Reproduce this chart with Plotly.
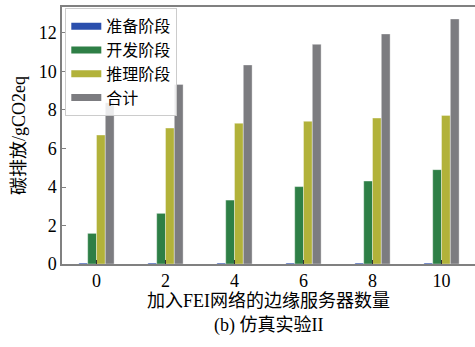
import plotly.graph_objects as go

servers = [0, 2, 4, 6, 8, 10]
prep = [0.05, 0.05, 0.05, 0.05, 0.05, 0.05]
dev = [1.59, 2.63, 3.32, 4.02, 4.31, 4.90]
infer = [6.70, 7.06, 7.31, 7.41, 7.58, 7.72]
total = [8.38, 9.33, 10.34, 11.41, 11.95, 12.73]

names = ["准备阶段", "开发阶段", "推理阶段", "合计"]
colors = ["#2b4fad", "#2e7f46", "#b2b23a", "#7c7c80"]
series = [prep, dev, infer, total]

FONT = "Liberation Serif, Times New Roman, Noto Sans CJK SC"

fig = go.Figure()
for name, col, vals in zip(names, colors, series):
    fig.add_trace(go.Bar(x=servers, y=vals, name=name, marker_color=col,
                         marker_line=dict(color="rgba(255,255,255,0.6)", width=0.6),
                         showlegend=False))
for name, col in zip(names, colors):
    fig.add_trace(go.Scatter(x=[None], y=[None], mode="lines", name=name,
                             line=dict(color=col, width=7)))

fig.update_layout(
    width=475, height=347,
    margin=dict(l=62, r=0, t=7, b=83),
    plot_bgcolor="white", paper_bgcolor="white",
    barmode="group", bargap=0.49, bargroupgap=0,
    font=dict(family=FONT, size=18, color="black"),
    legend=dict(x=0.008, y=0.995, xanchor="left", yanchor="top",
                bgcolor="rgba(255,255,255,0.85)", bordercolor="#cccccc", borderwidth=1,
                font=dict(size=16, family="Noto Sans CJK SC"),
                itemwidth=30, tracegroupgap=0),
    xaxis=dict(range=[-1, 10.97], tickvals=servers, ticktext=[str(s) for s in servers],
               showgrid=False, zeroline=False, showline=True, linecolor="#808080",
               linewidth=1.5, mirror=True, ticks="inside", ticklen=4, tickcolor="#333",
               tickfont=dict(size=18, family=FONT),
               title=dict(text="加入FEI网络的边缘服务器数量", standoff=4,
                          font=dict(size=18, family=FONT))),
    yaxis=dict(range=[0, 13.35], tickvals=[0, 2, 4, 6, 8, 10, 12],
               showgrid=False, zeroline=False, showline=True, linecolor="#808080",
               linewidth=1.5, mirror=False, ticks="inside", ticklen=4, tickcolor="#808080",
               tickfont=dict(size=18, family=FONT),
               title=dict(text="碳排放/gCO2eq", standoff=8,
                          font=dict(size=18, family=FONT))),
)
fig.add_annotation(text="(b) 仿真实验II", xref="paper", yref="paper",
                   x=0.5, y=-0.24, xanchor="center", yanchor="middle", showarrow=False,
                   font=dict(size=18, family=FONT))

fig.write_html("out.html")
